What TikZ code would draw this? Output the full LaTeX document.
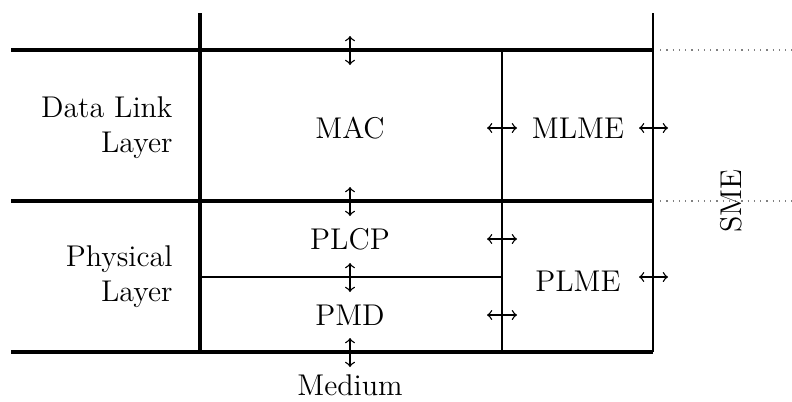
\documentclass[tikz,border=0pt]{standalone}
\usetikzlibrary{arrows}
\begin{document}
\begin{tikzpicture}[x=0.4pt,y=-0.4pt,
  thickline/.style={line width=1.25pt},
  thinline/.style={line width=0.5pt},
  biarrow/.style={<->,>=to,line width=0.55pt},
  lbl/.style={inner sep=0pt,font=\large},
  side/.style={inner sep=0pt,align=right,anchor=east,font=\large}]
\useasboundingbox (0,0) rectangle (792,401);
% coordinates
\coordinate (tl) at (11,50);
\coordinate (tr) at (653,50);
\coordinate (ml) at (11,201);
\coordinate (mr) at (653,201);
\coordinate (bl) at (11,352);
\coordinate (br) at (653,352);
\coordinate (vt) at (200,13);
\coordinate (vb) at (200,352);
\coordinate (rt) at (653,13);
\coordinate (mt) at (502,50);
\coordinate (mb) at (502,352);
\coordinate (pl) at (200,277);
\coordinate (pr) at (502,277);
\coordinate (d1a) at (660,50);
\coordinate (d1b) at (792,50);
\coordinate (d2a) at (660,201);
\coordinate (d2b) at (792,201);
% lines
\draw[thickline] (tl) -- (tr);
\draw[thickline] (ml) -- (mr);
\draw[thickline] (bl) -- (br);
\draw[thickline] (vt) -- (vb);
\draw[thinline] (rt) -- (br);
\draw[thinline] (mt) -- (mb);
\draw[thinline] (pl) -- (pr);
\draw[thinline,dotted,gray] (d1a) -- (d1b);
\draw[thinline,dotted,gray] (d2a) -- (d2b);
% labels
\node[side] (dll) at (173,128) {Data Link\\Layer};
\node[side] (phy) at (173,277) {Physical\\Layer};
\node[lbl] (mac) at (350,128) {MAC};
\node[lbl] (mlme) at (578,128) {MLME};
\node[lbl] (plcp) at (350,239) {PLCP};
\node[lbl] (pmd) at (350,315) {PMD};
\node[lbl] (plme) at (578,281) {PLME};
\node[lbl] (med) at (350,385) {Medium};
\node[lbl,rotate=90] (sme) at (731,201) {SME};
% arrows vertical
\coordinate (a1t) at (350,36); \coordinate (a1b) at (350,65);
\coordinate (a2t) at (350,187); \coordinate (a2b) at (350,216);
\coordinate (a3t) at (350,263); \coordinate (a3b) at (350,292);
\coordinate (a4t) at (350,338); \coordinate (a4b) at (350,367);
\draw[biarrow] (a1t) -- (a1b);
\draw[biarrow] (a2t) -- (a2b);
\draw[biarrow] (a3t) -- (a3b);
\draw[biarrow] (a4t) -- (a4b);
% arrows horizontal
\coordinate (h1l) at (487,128); \coordinate (h1r) at (517,128);
\coordinate (h2l) at (487,239); \coordinate (h2r) at (517,239);
\coordinate (h3l) at (487,315); \coordinate (h3r) at (517,315);
\coordinate (h4l) at (639,128); \coordinate (h4r) at (668,128);
\coordinate (h5l) at (639,277); \coordinate (h5r) at (668,277);
\draw[biarrow] (h1l) -- (h1r);
\draw[biarrow] (h2l) -- (h2r);
\draw[biarrow] (h3l) -- (h3r);
\draw[biarrow] (h4l) -- (h4r);
\draw[biarrow] (h5l) -- (h5r);
\end{tikzpicture}
\end{document}
